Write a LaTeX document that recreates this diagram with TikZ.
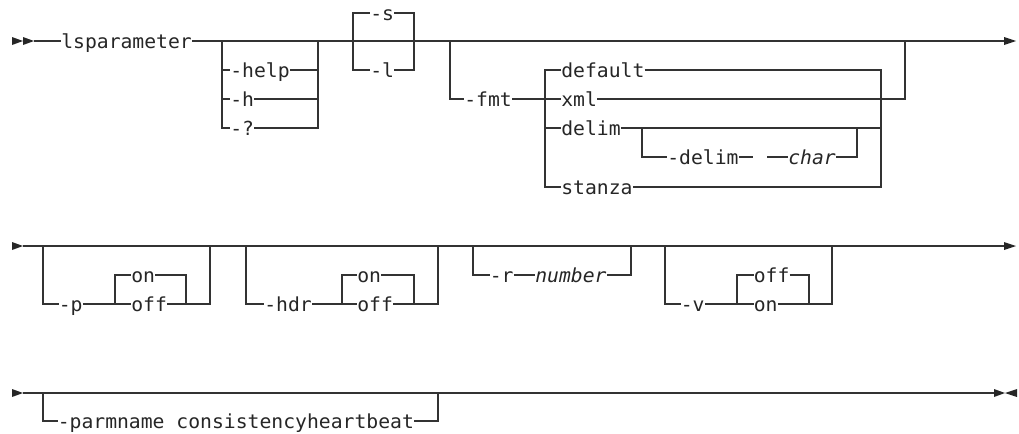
\documentclass[tikz,border=0pt]{standalone}
\usepackage{fontspec}
\newfontfamily\rrfont[FakeStretch=1.02]{DejaVu Sans Mono}
\begin{document}
\begin{tikzpicture}[x=0.75pt,y=-0.75pt]
\tikzset{
  rr/.style={line width=0.9pt, draw=black!80},
  kw/.style={anchor=west, inner sep=0pt, text height=12.4pt, text depth=1pt,
    font=\rrfont\fontsize{14.5pt}{17pt}\selectfont, text=black!85},
  var/.style={kw, font=\rrfont\fontsize{14.5pt}{17pt}\selectfont\itshape},
  tipfill/.style={fill=black!85}
}
\useasboundingbox (0,0) rectangle (1019,433);

% ================= Row 1 =================
\fill[tipfill] (12,37) -- (23,41) -- (12,45) -- cycle;
\fill[tipfill] (23,37) -- (34,41) -- (23,45) -- cycle;
\coordinate (s0) at (34,41);
\coordinate (e1) at (1004,41);
\fill[tipfill] (1004,37) -- (1016,41) -- (1004,45) -- cycle;

\node[kw] (lsp) at (61,41) {lsparameter};
\draw[rr] (s0) -- (lsp.west);
\draw[rr] (lsp.east) -- (e1);

% help group
\coordinate (hL) at (222,41);
\coordinate (hR) at (318,41);
\node[kw] (help) at (230,70) {-help};
\node[kw] (hh) at (230,99) {-h};
\node[kw] (hq) at (230,128) {-?};
\draw[rr] (hL) |- (help.west);
\draw[rr] (hL) |- (hh.west);
\draw[rr] (hL) |- (hq.west);
\draw[rr] (help.east) -| (hR);
\draw[rr] (hh.east) -| (hR);
\draw[rr] (hq.east) -| (hR);

% -s / -l group
\coordinate (sL) at (353,41);
\coordinate (sR) at (414,41);
\node[kw] (ss) at (370,13) {-s};
\node[kw] (sl) at (370,70) {-l};
\draw[rr] (sL) |- (ss.west);
\draw[rr] (sL) |- (sl.west);
\draw[rr] (ss.east) -| (sR);
\draw[rr] (sl.east) -| (sR);

% -fmt group
\coordinate (fL) at (450,41);
\coordinate (fR) at (905,41);
\node[kw] (fmt) at (464,99) {-fmt};
\draw[rr] (fL) |- (fmt.west);
\coordinate (gL) at (545,99);
\coordinate (gR) at (881,99);
\node[kw] (def) at (561,70) {default};
\node[kw] (xml) at (561,99) {xml};
\node[kw] (dlm) at (561,128) {delim};
\node[kw] (stz) at (561,187) {stanza};
\draw[rr] (fmt.east) -- (xml.west);
\draw[rr] (def.west) -| (gL);
\draw[rr] (gL) |- (dlm.west);
\draw[rr] (gL) |- (stz.west);
\draw[rr] (def.east) -| (gR);
\draw[rr] (dlm.east) -| (gR);
\draw[rr] (stz.east) -| (gR);
\draw[rr] (xml.east) -| (fR);

% -delim char sub-group
\coordinate (dL) at (642,128);
\coordinate (dR) at (857,128);
\node[kw] (dlm2) at (667,157) {-delim};
\node[var] (chr) at (788,157) {char};
\coordinate (dg1) at (753,157);
\coordinate (dg2) at (767,157);
\draw[rr] (dL) |- (dlm2.west);
\draw[rr] (dlm2.east) -- (dg1);
\draw[rr] (dg2) -- (chr.west);
\draw[rr] (chr.east) -| (dR);

% ================= Row 2 =================
\fill[tipfill] (12,242) -- (23,246) -- (12,250) -- cycle;
\coordinate (r2s) at (23,246);
\coordinate (r2e) at (1004,246);
\draw[rr] (r2s) -- (r2e);
\fill[tipfill] (1004,242) -- (1016,246) -- (1004,250) -- cycle;

% -p group
\coordinate (pL) at (43,246);
\coordinate (pR) at (210,246);
\coordinate (psL) at (115,304);
\coordinate (psR) at (186,304);
\node[kw] (pp) at (58.5,304) {-p};
\node[kw] (pon) at (131,275) {on};
\node[kw] (poff) at (131,304) {off};
\draw[rr] (pL) |- (pp.west);
\draw[rr] (pp.east) -- (poff.west);
\draw[rr] (psL) |- (pon.west);
\draw[rr] (pon.east) -| (psR);
\draw[rr] (poff.east) -| (pR);

% -hdr group
\coordinate (hdL) at (246,246);
\coordinate (hdR) at (438,246);
\coordinate (hsL) at (342,304);
\coordinate (hsR) at (414,304);
\node[kw] (hdr) at (264,304) {-hdr};
\node[kw] (hon) at (357,275) {on};
\node[kw] (hoff) at (357,304) {off};
\draw[rr] (hdL) |- (hdr.west);
\draw[rr] (hdr.east) -- (hoff.west);
\draw[rr] (hsL) |- (hon.west);
\draw[rr] (hon.east) -| (hsR);
\draw[rr] (hoff.east) -| (hdR);

% -r group
\coordinate (rL) at (473,246);
\coordinate (rR) at (631,246);
\node[kw] (rr) at (489.5,275) {-r};
\node[var] (num) at (535,275) {number};
\draw[rr] (rL) |- (rr.west);
\draw[rr] (rr.east) -- (num.west);
\draw[rr] (num.east) -| (rR);

% -v group
\coordinate (vL) at (665,246);
\coordinate (vR) at (832,246);
\coordinate (vsL) at (737,304);
\coordinate (vsR) at (809,304);
\node[kw] (vv) at (680.5,304) {-v};
\node[kw] (voff) at (753.5,275) {off};
\node[kw] (von) at (753.5,304) {on};
\draw[rr] (vL) |- (vv.west);
\draw[rr] (vv.east) -- (von.west);
\draw[rr] (vsL) |- (voff.west);
\draw[rr] (voff.east) -| (vsR);
\draw[rr] (von.east) -| (vR);

% ================= Row 3 =================
\fill[tipfill] (12,389) -- (23,393) -- (12,397) -- cycle;
\coordinate (r3s) at (23,393);
\coordinate (r3e) at (994,393);
\draw[rr] (r3s) -- (r3e);
\fill[tipfill] (994,389) -- (1005,393) -- (994,397) -- cycle;
\fill[tipfill] (1017,389) -- (1005,393) -- (1017,397) -- cycle;

\coordinate (mL) at (43,393);
\coordinate (mR) at (438,393);
\node[kw] (parm) at (57.5,421) {-parmname consistencyheartbeat};
\draw[rr] (mL) |- (parm.west);
\draw[rr] (parm.east) -| (mR);

\end{tikzpicture}
\end{document}
